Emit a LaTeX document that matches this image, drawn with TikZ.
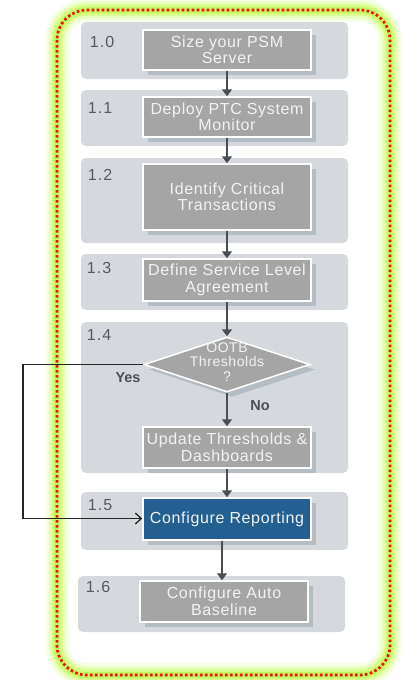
\documentclass[tikz,border=0pt]{standalone}
\usepackage{fontspec}
\setmainfont{Liberation Sans}
\newfontfamily\boxfont[LetterSpace=4]{Liberation Sans}
\newfontfamily\numfont[LetterSpace=7]{Liberation Sans}
\usetikzlibrary{arrows.meta,shapes.geometric,shadows}
\definecolor{panelc}{HTML}{D5D9DD}
\definecolor{boxc}{HTML}{A5A5A5}
\definecolor{shadc}{HTML}{B4BCC4}
\definecolor{bluec}{HTML}{235F91}
\definecolor{arrc}{HTML}{4A4E52}
\definecolor{numc}{HTML}{555A60}
\definecolor{txtc}{HTML}{F2F2F2}
\definecolor{glowa}{HTML}{F6FFE6}
\definecolor{glowb}{HTML}{E8FFBC}
\definecolor{glowc}{HTML}{D6FF88}
\definecolor{glowd}{HTML}{C6F860}
\definecolor{dotred}{HTML}{EE1010}
\tikzset{
  stepbox/.style={rectangle, fill=boxc, draw=white, line width=1.5pt,
    minimum width=168pt, text=txtc, align=center, inner sep=2pt,
    font=\boxfont\fontsize{16}{16.5}\selectfont,
    general shadow={shadow xshift=5pt, shadow yshift=-5pt, fill=shadc}},
  bluebox/.style={stepbox, fill=bluec},
  decbox/.style={diamond, fill=boxc, draw=white, line width=1.5pt,
    minimum width=166pt, minimum height=55pt, inner sep=0pt, shape aspect=3,
    general shadow={shadow xshift=5pt, shadow yshift=-5pt, fill=shadc}},
  dectext/.style={text=txtc, align=center, inner sep=0pt,
    font=\boxfont\fontsize{14}{14.5}\selectfont},
  panel/.style={fill=panelc, rounded corners=5pt},
  numlab/.style={text=numc, font=\numfont\fontsize{16}{16}\selectfont, inner sep=0pt},
  ynlab/.style={text=numc!90!black, font=\bfseries\fontsize{14.5}{14.5}\selectfont, inner sep=0pt},
  darr/.style={draw=arrc, line width=2.5pt, -{Triangle[length=7pt,width=10pt]}},
  yarr/.style={draw=black!85, line width=1.4pt, -{Straight Barb[length=6pt,width=11pt,line width=1.3pt]}},
  frame/.style={rounded corners=30pt}
}
\begin{document}
\begin{tikzpicture}[x=1pt,y=-1pt]
\useasboundingbox (0,0) rectangle (407,680);
% outer glow and dotted border
\draw[frame, glowa, line width=24pt] (57,10) rectangle (390,675);
\draw[frame, glowb, line width=17pt] (57,10) rectangle (390,675);
\draw[frame, glowc, line width=11pt] (57,10) rectangle (390,675);
\draw[frame, glowd, line width=6pt] (57,10) rectangle (390,675);
\draw[frame, dotred, line width=2.7pt, dash pattern=on 2.6pt off 2.4pt] (57,10) rectangle (390,675);
% panels
\fill[panel] (81,22) rectangle (348,79);
\fill[panel] (81,90) rectangle (348,146);
\fill[panel] (81,158) rectangle (348,243);
\fill[panel] (81,254) rectangle (348,310);
\fill[panel] (81,322) rectangle (348,473);
\fill[panel] (81,492) rectangle (348,550);
\fill[panel] (78,576) rectangle (345,632);
% numbers
\node[numlab] (n10) at (102,42) {1.0};
\node[numlab] (n11) at (100,108) {1.1};
\node[numlab] (n12) at (100,175) {1.2};
\node[numlab] (n13) at (99,268) {1.3};
\node[numlab] (n14) at (99,335) {1.4};
\node[numlab] (n15) at (100,505) {1.5};
\node[numlab] (n16) at (98,587) {1.6};
% boxes
\node[stepbox, minimum height=40pt] (b10) at (227,50) {Size your PSM\\Server};
\node[stepbox, minimum height=40pt] (b11) at (227,117) {Deploy PTC System\\Monitor};
\node[stepbox, minimum height=66pt] (b12) at (227,197) {Identify Critical\\Transactions};
\node[stepbox, minimum height=42pt] (b13) at (227,280) {Define Service Level\\Agreement};
\node[decbox] (d14) at (227,364.5) {};
\node[dectext] (d14t) at (227,362) {OOTB\\Thresholds\\?};
\node[stepbox, minimum height=41pt] (b14) at (227,447.5) {Update Thresholds \&\\Dashboards};
\node[bluebox, minimum height=42pt] (b15) at (227,519) {Configure Reporting};
\node[stepbox, minimum height=41pt] (b16) at (224,601.5) {Configure Auto\\Baseline};
% labels
\node[ynlab] (yes) at (128,378) {Yes};
\node[ynlab] (no) at (260,406) {No};
% arrows
\draw[darr] (b10.south) -- (b11.north);
\draw[darr] (b11.south) -- (b12.north);
\draw[darr] (b12.south) -- (b13.north);
\draw[darr] (b13.south) -- (d14.north);
\draw[darr] (d14.south) -- (b14.north);
\draw[darr] (b14.south) -- (b15.north);
\draw[darr] ([xshift=-5pt]b15.south) -- ([xshift=-2pt]b16.north);
\coordinate (ya) at (23,364.5);
\coordinate (yb) at (23,518.5);
\draw[yarr] (d14.west) -- (ya) -- (yb) -- (yb -| b15.west);
\end{tikzpicture}
\end{document}
